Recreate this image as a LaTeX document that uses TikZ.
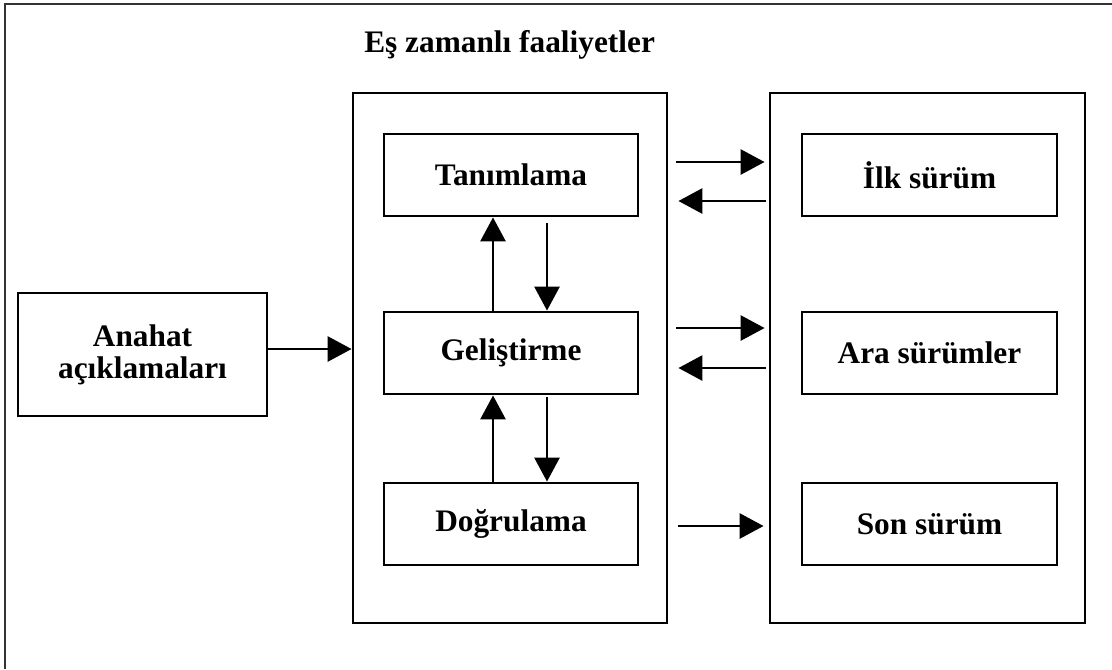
\documentclass[tikz,border=0pt]{standalone}
\usepackage{fontspec}
\setmainfont{Liberation Serif}
\usetikzlibrary{positioning,arrows.meta,calc}

\tikzset{
  kutu/.style={draw,line width=2.2pt,minimum width=190.5pt,minimum height=61.5pt,inner sep=0pt,
    font=\bfseries\fontsize{23.5}{24}\selectfont,align=center},
  blok/.style={draw,line width=2.2pt,minimum width=235.5pt,minimum height=397.5pt,inner sep=0pt},
  ok/.style={->,line width=1.4pt}
}

\begin{document}
\begin{tikzpicture}[x=0.75pt,y=-0.75pt,>={Triangle[length=18pt,width=19pt]}]
  \useasboundingbox (0,0) rectangle (1112,669);
  % cerceve
  \draw[line width=1.4pt,black!80] (1112,4) -| (5,669);
  % baslik
  \node[anchor=base west,inner sep=0pt,font=\bfseries\fontsize{23.5}{24}\selectfont] (baslik) at (364,52) {Eş zamanlı faaliyetler};
  % bloklar
  \node[blok] (orta) at (510,358) {};
  \node[blok,minimum width=236.25pt] (surum) at (927.5,358) {};
  \node[kutu,minimum width=186.75pt,minimum height=92.25pt] (anahat) at (142.5,354.5) {Anahat\\açıklamaları};
  % eszamanli faaliyetler
  \node[kutu] (tan) at (511,175) {Tanımlama};
  \node[kutu] (gel) at (511,353) {Geliştirme};
  \node[kutu] (dog) at (511,524) {Doğrulama};
  % surumler
  \node[kutu,minimum width=191.25pt] (ilk) at (929.5,175) {İlk sürüm};
  \node[kutu,minimum width=191.25pt] (ara) at (929.5,353) {Ara sürümler};
  \node[kutu,minimum width=191.25pt] (son) at (929.5,524) {Son sürüm};
  % oklar
  \draw[ok] (anahat.east |- 0,349) -- (orta.west |- 0,349);
  \draw[ok] ($(gel.north)+(-18,0)$) -- ($(tan.south)+(-18,0)$);
  \draw[ok] ($(tan.south)+(36,6)$) -- ($(gel.north)+(36,0)$);
  \draw[ok] ($(dog.north)+(-18,0)$) -- ($(gel.south)+(-18,0)$);
  \draw[ok] ($(gel.south)+(36,2)$) -- ($(dog.north)+(36,0)$);
  \draw[ok] ($(orta.east |- ilk)+(8,-13)$) -- ($(surum.west |- ilk)+(-4,-13)$);
  \draw[ok] ($(surum.west |- ilk)+(-3,26)$) -- ($(orta.east |- ilk)+(10,26)$);
  \draw[ok] ($(orta.east |- ara)+(8,-25)$) -- ($(surum.west |- ara)+(-4,-25)$);
  \draw[ok] ($(surum.west |- ara)+(-3,15)$) -- ($(orta.east |- ara)+(10,15)$);
  \draw[ok] ($(orta.east |- son)+(10,2)$) -- ($(surum.west |- son)+(-5,2)$);
\end{tikzpicture}
\end{document}
